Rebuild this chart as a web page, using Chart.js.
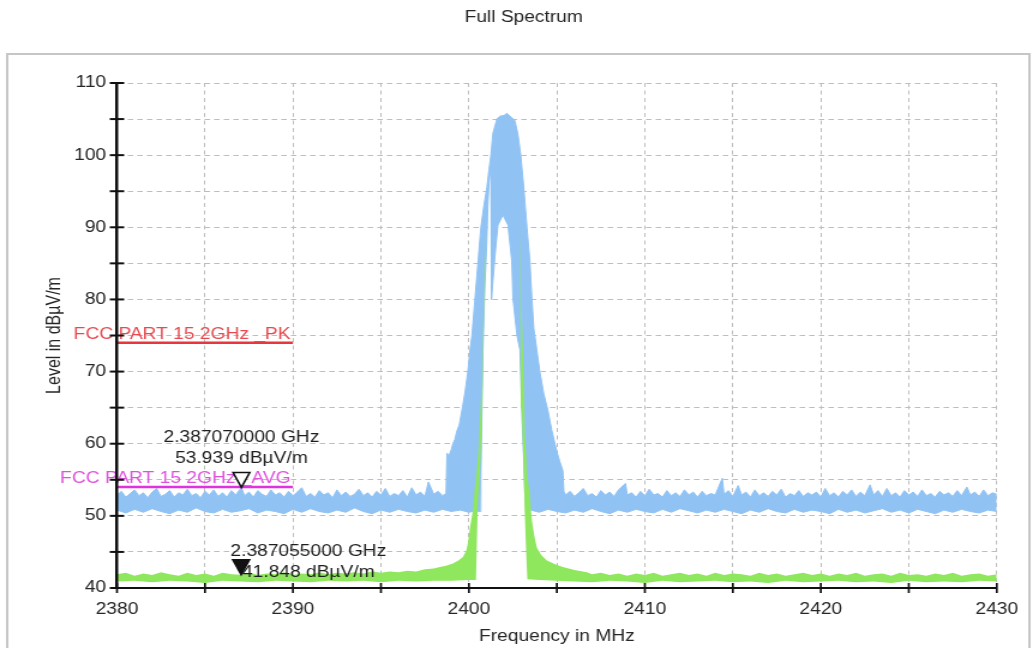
<!DOCTYPE html>
<html>
<head>
<meta charset="utf-8">
<title>Full Spectrum</title>
<script src="https://cdn.jsdelivr.net/npm/chart.js@4.4.1/dist/chart.umd.min.js"></script>
<style>
  html, body { margin: 0; padding: 0; background: #ffffff; }
</style>
</head>
<body>
<canvas id="spectrum" width="861" height="648" style="width:1033px;height:648px;display:block"></canvas>
<script>
// ---- Tick labels ----
const freqTickLabels = [2380, 2390, 2400, 2410, 2420, 2430];
const levelTickLabels = [40, 50, 60, 70, 80, 90, 100, 110];

// ---- Peak-hold trace (MHz, dBµV/m): upper and lower envelope ----
const peakHoldUpper = [
  [2380.00,52.9],[2380.25,53.4],[2380.50,52.6],[2380.75,53.1],[2381.00,53.6],[2381.25,52.8],[2381.50,53.2],[2381.75,52.5],
  [2382.00,53.3],[2382.25,53.8],[2382.50,52.7],[2382.75,53.0],[2383.00,53.5],[2383.25,52.6],[2383.50,53.2],[2383.75,52.9],
  [2384.00,53.7],[2384.25,52.8],[2384.50,53.1],[2384.75,52.5],[2385.00,53.4],[2385.25,52.9],[2385.50,53.6],[2385.75,52.7],
  [2386.00,53.2],[2386.25,52.6],[2386.50,53.5],[2386.75,52.9],[2387.07,53.939],[2387.25,52.8],[2387.50,53.3],[2387.75,52.6],
  [2388.00,53.5],[2388.25,53.0],[2388.50,52.7],[2388.75,53.6],[2389.00,52.9],[2389.25,53.2],[2389.50,52.6],[2389.75,53.4],
  [2390.00,52.8],[2390.25,53.3],[2390.50,53.9],[2390.75,52.7],[2391.00,53.1],[2391.25,52.6],[2391.50,53.5],[2391.75,52.9],
  [2392.00,53.2],[2392.25,52.5],[2392.50,53.6],[2392.75,52.8],[2393.00,53.3],[2393.25,52.7],[2393.50,53.0],[2393.75,53.7],
  [2394.00,52.8],[2394.25,53.2],[2394.50,52.6],[2394.75,53.4],[2395.00,52.9],[2395.25,53.8],[2395.50,52.7],[2395.75,53.1],
  [2396.00,52.8],[2396.25,53.5],[2396.50,52.6],[2396.75,53.9],[2397.00,52.9],[2397.25,53.3],[2397.50,52.7],[2397.70,54.7],
  [2398.00,53.0],[2398.25,53.4],[2398.50,52.8],[2398.70,53.1],
  [2398.75,58.7],[2398.86,58.3],[2399.00,59.2],[2399.09,60.0],[2399.20,60.6],[2399.32,61.8],[2399.45,62.6],[2399.60,64.6],
  [2399.77,67.0],[2399.94,70.0],[2400.06,73.0],[2400.17,75.0],[2400.34,80.0],[2400.51,85.0],[2400.68,90.0],[2400.85,93.0],
  [2401.02,95.5],[2401.14,98.0],[2401.25,100.0],[2401.36,103.0],[2401.59,105.0],[2401.76,105.4],[2401.99,105.5],[2402.16,105.8],
  [2402.33,105.4],[2402.44,105.2],[2402.61,104.8],[2402.78,103.0],[2402.95,100.0],[2403.13,95.2],[2403.30,90.0],[2403.47,85.2],
  [2403.58,80.2],[2403.69,76.0],[2403.86,73.0],[2404.03,70.0],[2404.25,67.0],[2404.49,64.6],[2404.70,62.0],[2404.89,60.0],
  [2405.05,58.5],[2405.17,57.5],[2405.34,56.3],[2405.40,53.4],
  [2405.50,52.9],[2405.75,53.4],[2406.00,52.7],[2406.25,53.2],[2406.50,53.8],[2406.75,52.8],[2407.00,53.1],[2407.25,52.6],
  [2407.50,53.5],[2407.75,52.9],[2408.00,53.3],[2408.25,52.7],[2408.50,53.6],[2408.90,54.5],[2409.00,52.9],[2409.25,53.2],
  [2409.50,52.6],[2409.75,53.4],[2410.00,52.8],[2410.25,53.7],[2410.50,52.9],[2410.75,53.1],[2411.00,52.6],[2411.25,53.5],
  [2411.50,52.8],[2411.75,53.2],[2412.00,52.7],[2412.25,53.6],[2412.50,52.9],[2412.75,53.3],[2413.00,52.6],[2413.25,53.4],
  [2413.50,52.8],[2413.75,53.1],[2414.00,52.9],[2414.40,55.2],[2414.50,53.0],[2414.75,53.5],[2415.00,52.7],[2415.30,54.2],
  [2415.50,52.9],[2415.75,53.3],[2416.00,52.6],[2416.25,53.6],[2416.50,52.8],[2416.75,53.2],[2417.00,52.7],[2417.25,53.4],
  [2417.50,52.9],[2417.75,53.7],[2418.00,52.6],[2418.25,53.1],[2418.50,52.8],[2418.75,53.5],[2419.00,52.7],[2419.25,53.2],
  [2419.50,52.9],[2419.75,53.3],[2420.00,52.6],[2420.25,53.8],[2420.50,52.8],[2420.75,53.2],[2421.00,52.6],[2421.25,53.4],
  [2421.50,52.9],[2421.75,53.6],[2422.00,52.7],[2422.25,53.3],[2422.50,52.8],[2422.80,54.3],[2423.00,52.9],[2423.25,53.5],
  [2423.50,52.7],[2423.75,53.8],[2424.00,52.8],[2424.25,53.2],[2424.50,52.6],[2424.75,53.5],[2425.00,52.9],[2425.25,53.3],
  [2425.50,52.7],[2425.75,53.6],[2426.00,52.8],[2426.25,53.1],[2426.50,52.6],[2426.75,53.4],[2427.00,52.9],[2427.25,53.2],
  [2427.50,52.7],[2427.75,53.5],[2428.00,52.8],[2428.30,54.0],[2428.50,52.9],[2428.75,53.3],[2429.00,52.7],[2429.25,53.6],
  [2429.50,52.8],[2429.75,53.2],[2430.00,53.0]
];
const peakHoldLower = [
  [2380.0,50.8],[2380.5,50.4],[2381.0,50.9],[2381.5,50.5],[2382.0,51.0],[2382.5,50.6],[2383.0,50.3],[2383.5,50.8],
  [2384.0,50.5],[2384.5,51.1],[2385.0,50.6],[2385.5,50.4],[2386.0,50.9],[2386.5,50.5],[2387.0,50.7],[2387.5,51.0],
  [2388.0,50.4],[2388.5,50.8],[2389.0,50.6],[2389.5,50.3],[2390.0,50.9],[2390.5,50.5],[2391.0,51.0],[2391.5,50.6],
  [2392.0,50.4],[2392.5,50.8],[2393.0,50.5],[2393.5,51.1],[2394.0,50.6],[2394.5,50.3],[2395.0,50.8],[2395.5,50.5],
  [2396.0,50.9],[2396.5,50.6],[2397.0,50.4],[2397.5,50.8],[2398.0,50.5],[2398.5,50.9],[2399.0,50.6],[2399.5,50.8],
  [2400.0,50.5],[2400.40,50.7],[2400.63,50.6],
  [2400.68,55.0],[2400.80,73.0],[2400.91,82.0],[2401.02,88.0],[2401.08,93.0],[2401.14,96.0],[2401.25,98.5],[2401.28,80.0],
  [2401.48,86.0],[2401.65,90.3],[2401.93,91.7],[2402.22,90.3],[2402.44,85.2],[2402.50,80.2],[2402.73,75.0],[2402.90,73.0],
  [2403.01,64.0],[2403.13,57.0],[2403.18,53.0],[2403.24,50.6],
  [2403.5,50.8],[2404.0,50.5],[2404.5,50.9],[2405.0,50.6],[2405.5,50.4],[2406.0,50.8],[2406.5,50.5],[2407.0,51.0],
  [2407.5,50.6],[2408.0,50.3],[2408.5,50.8],[2409.0,50.5],[2409.5,50.9],[2410.0,50.6],[2410.5,50.4],[2411.0,50.9],
  [2411.5,50.5],[2412.0,51.0],[2412.5,50.7],[2413.0,50.4],[2413.5,50.8],[2414.0,50.5],[2414.5,50.9],[2415.0,50.6],
  [2415.5,50.3],[2416.0,50.8],[2416.5,50.5],[2417.0,51.0],[2417.5,50.6],[2418.0,50.4],[2418.5,50.9],[2419.0,50.5],
  [2419.5,50.8],[2420.0,50.6],[2420.5,50.3],[2421.0,50.9],[2421.5,50.5],[2422.0,50.8],[2422.5,50.4],[2423.0,50.7],
  [2423.5,51.0],[2424.0,50.5],[2424.5,50.8],[2425.0,50.4],[2425.5,50.9],[2426.0,50.6],[2426.5,50.3],[2427.0,50.8],
  [2427.5,50.5],[2428.0,50.9],[2428.5,50.6],[2429.0,50.4],[2429.5,50.8],[2430.0,50.6]
];

// ---- Average trace (MHz, dBµV/m): upper and lower envelope ----
const averageUpper = [
  [2380.0,41.9],[2380.5,42.1],[2381.0,41.7],[2381.5,42.0],[2382.0,41.8],[2382.5,42.2],[2383.0,41.9],[2383.5,41.7],
  [2384.0,42.1],[2384.5,41.8],[2385.0,42.0],[2385.5,41.7],[2386.0,42.1],[2386.5,41.9],[2387.055,41.848],[2387.5,42.1],
  [2388.0,41.8],[2388.5,42.0],[2389.0,41.9],[2389.5,42.2],[2390.0,41.8],[2390.5,42.0],[2391.0,41.9],[2391.5,42.2],
  [2392.0,41.9],[2392.5,42.1],[2393.0,42.0],[2393.5,42.2],[2394.0,42.0],[2394.5,42.3],[2395.0,42.1],[2395.5,42.3],
  [2396.0,42.2],[2396.5,42.4],[2397.0,42.3],[2397.5,42.6],[2398.0,42.7],[2398.35,42.9],[2398.7,43.1],[2399.09,43.4],
  [2399.4,43.8],[2399.66,44.3],[2399.85,45.2],[2399.94,46.2],[2400.06,48.4],[2400.23,50.8],[2400.34,54.0],[2400.45,56.3],
  [2400.57,60.0],[2400.68,66.0],[2400.74,70.0],[2400.80,75.0],[2400.88,85.0],[2400.97,90.0],
  [2402.90,90.0],[2402.99,80.0],[2403.07,73.0],[2403.18,62.0],[2403.30,56.3],[2403.47,52.6],[2403.58,49.4],[2403.72,47.2],
  [2403.86,45.6],[2404.10,44.6],[2404.43,43.8],[2404.90,43.3],[2405.34,42.9],[2406.0,42.5],[2406.7,42.2],
  [2407.0,41.9],[2407.5,42.1],[2408.0,41.8],[2408.5,42.0],[2409.0,41.7],[2409.5,42.0],[2410.0,41.8],[2410.5,42.1],
  [2411.0,41.7],[2411.5,41.9],[2412.0,42.1],[2412.5,41.8],[2413.0,42.0],[2413.5,41.7],[2414.0,42.1],[2414.5,41.8],
  [2415.0,42.0],[2415.5,41.9],[2416.0,41.7],[2416.5,42.1],[2417.0,41.8],[2417.5,42.0],[2418.0,41.7],[2418.5,41.9],
  [2419.0,42.1],[2419.5,41.8],[2420.0,42.0],[2420.5,41.7],[2421.0,42.0],[2421.5,41.8],[2422.0,42.1],[2422.5,41.7],
  [2423.0,41.9],[2423.5,42.0],[2424.0,41.7],[2424.5,42.1],[2425.0,41.8],[2425.5,41.9],[2426.0,41.7],[2426.5,42.0],
  [2427.0,41.8],[2427.5,42.1],[2428.0,41.7],[2428.5,41.9],[2429.0,42.0],[2429.5,41.7],[2430.0,41.9]
];
const averageLower = [
  [2380.0,40.9],[2381.0,41.0],[2382.0,40.8],[2383.0,41.0],[2384.0,40.9],[2385.0,40.7],[2386.0,41.0],[2387.0,40.9],
  [2388.0,40.8],[2389.0,41.0],[2390.0,40.9],[2391.0,40.8],[2392.0,41.0],[2393.0,40.9],[2394.0,41.0],[2395.0,40.8],
  [2396.0,41.0],[2397.0,40.9],[2398.0,41.0],[2399.0,41.0],[2400.0,41.1],[2400.40,41.1],
  [2400.45,46.0],[2400.51,52.0],[2400.63,56.0],[2400.71,62.0],[2400.77,68.0],[2400.82,74.0],[2400.88,82.0],[2400.97,90.0],
  [2402.90,90.0],[2402.95,75.0],[2403.01,65.0],[2403.10,57.0],[2403.18,50.0],[2403.27,44.0],[2403.32,41.2],
  [2404.0,41.1],[2405.0,41.0],[2406.0,40.9],[2407.0,40.8],[2408.0,41.0],[2409.0,40.9],[2410.0,40.7],[2411.0,41.0],
  [2412.0,40.8],[2413.0,40.9],[2414.0,41.0],[2415.0,40.8],[2416.0,40.9],[2417.0,40.7],[2418.0,41.0],[2419.0,40.8],
  [2420.0,40.9],[2421.0,41.0],[2422.0,40.8],[2423.0,40.9],[2424.0,40.7],[2425.0,41.0],[2426.0,40.8],[2427.0,40.9],
  [2428.0,40.8],[2429.0,41.0],[2430.0,40.9]
];

// ---- Limit lines ----
const limitPeak = [[2380, 74], [2390, 74]];
const limitAverage = [[2380, 54], [2390, 54]];
const limitPeakName = 'FCC PART 15 2GHz _PK';
const limitAverageName = 'FCC PART 15 2GHz _AVG';

// ---- Markers ----
const markerFreqMHz = [2387.070, 2387.055];
const markerLevel = [53.939, 41.848];

const FONT = '"Liberation Sans", Arial, Helvetica, sans-serif';
const TEXT = '#262626';
const GRID = '#bdbdbd';
const BLUE = '#90c3f4';
const GREEN = '#8fe75e';

Chart.defaults.font.family = FONT;
Chart.defaults.font.size = 16;
Chart.defaults.color = TEXT;

const pts = arr => arr.map(([x, y]) => ({ x, y }));

// Page frame and chart heading
const framePlugin = {
  id: 'frame',
  beforeDraw(chart) {
    const ctx = chart.ctx;
    ctx.save();
    ctx.fillStyle = '#ffffff';
    ctx.fillRect(0, 0, chart.width, chart.height);
    ctx.strokeStyle = '#c6c6c6';
    ctx.lineWidth = 2;
    ctx.strokeRect(6, 54, 852, 700);
    ctx.fillStyle = TEXT;
    ctx.font = '16px ' + FONT;
    ctx.textAlign = 'center';
    ctx.textBaseline = 'middle';
    ctx.fillText('Full Spectrum', 436.5, 18);
    ctx.restore();
  }
};

// Tick marks that cross the axis lines
const axisTicksPlugin = {
  id: 'axisTicks',
  afterDraw(chart) {
    const { ctx, chartArea: a, scales: { x, y } } = chart;
    ctx.save();
    ctx.strokeStyle = '#111111';
    ctx.lineWidth = 2;
    y.ticks.forEach(t => {
      const py = y.getPixelForValue(t.value);
      ctx.beginPath(); ctx.moveTo(a.left - 6, py); ctx.lineTo(a.left + 6, py); ctx.stroke();
    });
    ctx.lineWidth = 1.7;
    x.ticks.forEach(t => {
      const px = x.getPixelForValue(t.value);
      ctx.beginPath(); ctx.moveTo(px, a.bottom - 5); ctx.lineTo(px, a.bottom + 5); ctx.stroke();
    });
    ctx.restore();
  }
};

// Names of the limit lines, right-aligned at the line end
const limitLabelPlugin = {
  id: 'limitLabels',
  afterDatasetsDraw(chart) {
    const { ctx, scales: { x, y } } = chart;
    const items = [
      { line: limitPeak, name: limitPeakName, color: '#e64a4f' },
      { line: limitAverage, name: limitAverageName, color: '#de52dc' }
    ];
    ctx.save();
    ctx.font = '16px ' + FONT;
    ctx.textAlign = 'right';
    ctx.textBaseline = 'alphabetic';
    items.forEach(it => {
      const end = it.line[it.line.length - 1];
      ctx.fillStyle = it.color;
      ctx.fillText(it.name, x.getPixelForValue(end[0]) - 2, y.getPixelForValue(end[1]) - 4);
    });
    ctx.restore();
  }
};

// Marker triangles (tip on the value) and their read-outs
const markerPlugin = {
  id: 'markers',
  afterDraw(chart) {
    const { ctx, scales: { x, y } } = chart;
    const styles = [
      { filled: false, dx: 0, dy1: -50, dy2: -29 },
      { filled: true, dx: 56, dy1: -23, dy2: -2 }
    ];
    ctx.save();
    markerFreqMHz.forEach((f, i) => {
      const px = x.getPixelForValue(f);
      const py = y.getPixelForValue(markerLevel[i]);
      const s = styles[i];
      ctx.fillStyle = '#1e1e1e';
      ctx.font = '16px ' + FONT;
      ctx.textAlign = 'center';
      ctx.textBaseline = 'middle';
      ctx.fillText((f / 1000).toFixed(9) + ' GHz', px + s.dx, py + s.dy1);
      ctx.fillText(markerLevel[i].toFixed(3) + ' dB\u00b5V/m', px + s.dx, py + s.dy2);
      ctx.beginPath();
      ctx.moveTo(px, py);
      ctx.lineTo(px - 7, py - 15);
      ctx.lineTo(px + 7, py - 15);
      ctx.closePath();
      ctx.lineWidth = 1.5;
      ctx.strokeStyle = '#111111';
      ctx.fillStyle = s.filled ? '#111111' : '#ffffff';
      ctx.fill();
      ctx.stroke();
    });
    ctx.restore();
  }
};

const chart = new Chart(document.getElementById('spectrum'), {
  type: 'line',
  data: {
    datasets: [
      { label: limitPeakName, data: pts(limitPeak), borderColor: '#e8363c', borderWidth: 2.5, fill: false },
      { label: limitAverageName, data: pts(limitAverage), borderColor: '#e033e0', borderWidth: 2.5, fill: false },
      { label: 'AVG upper', data: pts(averageUpper), borderColor: GREEN, backgroundColor: GREEN, borderWidth: 0, fill: '+1' },
      { label: 'AVG lower', data: pts(averageLower), borderColor: GREEN, borderWidth: 0, fill: false },
      { label: 'PK upper', data: pts(peakHoldUpper), borderColor: BLUE, backgroundColor: BLUE, borderWidth: 1, fill: '+1' },
      { label: 'PK lower', data: pts(peakHoldLower), borderColor: BLUE, borderWidth: 1, fill: false }
    ]
  },
  options: {
    responsive: false,
    animation: false,
    devicePixelRatio: 1,
    events: [],
    layout: { padding: { top: 83, right: 30, bottom: 0, left: 0 } },
    elements: {
      point: { radius: 0, hitRadius: 0 },
      line: { tension: 0, borderJoinStyle: 'round' }
    },
    plugins: {
      legend: { display: false },
      tooltip: { enabled: false },
      title: { display: false }
    },
    scales: {
      x: {
        type: 'linear',
        min: 2380,
        max: 2430,
        afterFit: s => { s.height = 60; },
        grid: { color: GRID, lineWidth: 1, drawTicks: false },
        border: { display: true, color: '#111111', width: 2, dash: [4, 3.5], z: 1 },
        ticks: {
          stepSize: 5, autoSkip: false, maxRotation: 0, minRotation: 0, padding: 12.4,
          color: TEXT, font: { size: 16 },
          callback: v => freqTickLabels.includes(v) ? String(v) : ''
        },
        title: { display: true, text: 'Frequency in MHz', color: TEXT, font: { size: 16 }, padding: { top: 0, bottom: 1.4 } }
      },
      y: {
        type: 'linear',
        min: 40,
        max: 110,
        afterFit: s => { s.width = 97.5; },
        grid: { color: GRID, lineWidth: 1, drawTicks: false },
        border: { display: true, color: '#111111', width: 2.5, dash: [4.5, 3.5], z: 1 },
        ticks: {
          stepSize: 5, autoSkip: false, padding: 9,
          color: TEXT, font: { size: 16 },
          callback: v => levelTickLabels.includes(v) ? String(v) : ''
        },
        title: { display: true, text: 'Level in dB\u00b5V/m', color: TEXT, font: { size: 16 }, padding: { top: 36, bottom: 0 } }
      }
    }
  },
  plugins: [framePlugin, limitLabelPlugin, axisTicksPlugin, markerPlugin]
});
</script>
</body>
</html>
